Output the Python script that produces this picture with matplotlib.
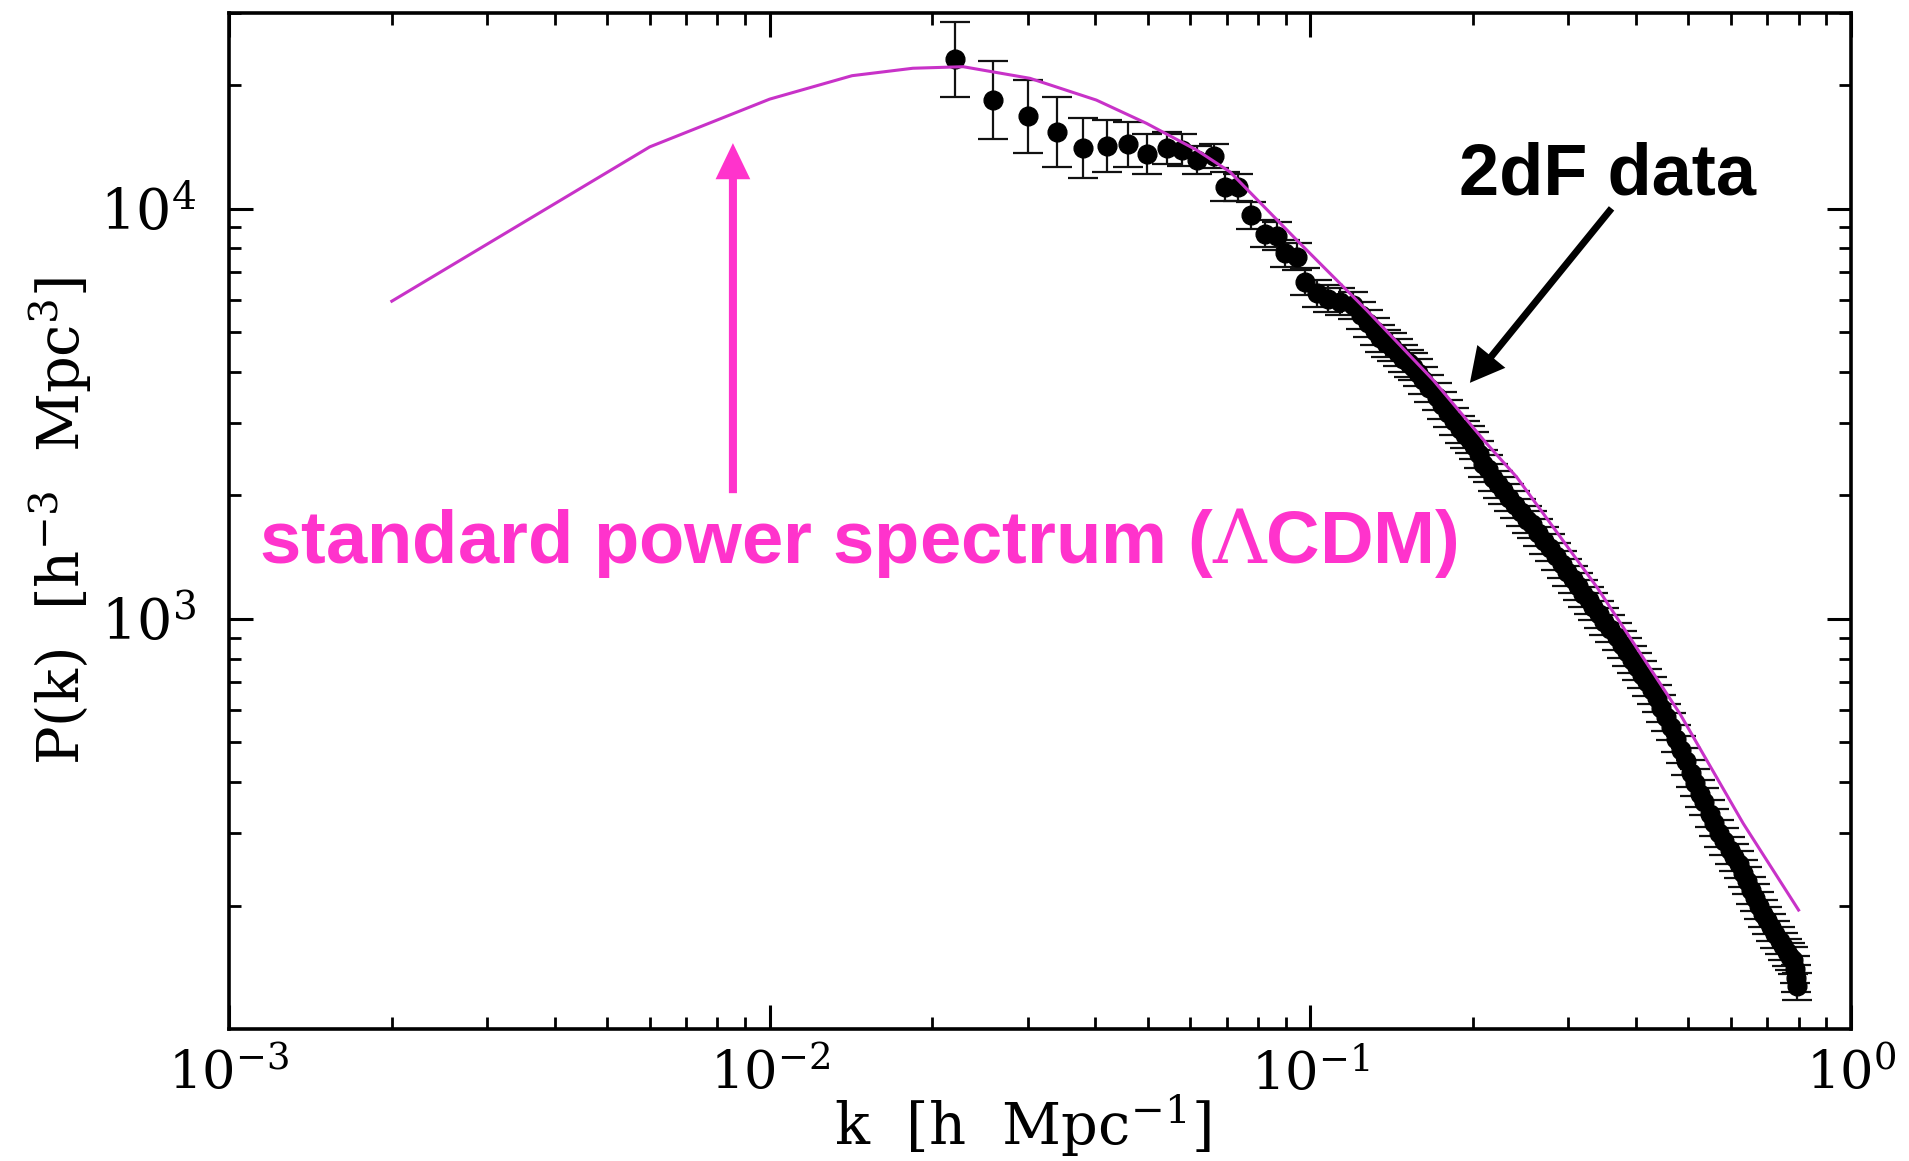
import numpy as np
import matplotlib
matplotlib.use("Agg")
import matplotlib.pyplot as plt
from matplotlib.ticker import LogLocator, NullFormatter

# ── model curve (LCDM) ──────────────────────────────────────
K_MODEL = [0.002, 0.006, 0.010, 0.0142, 0.0184, 0.0228, 0.0303, 0.0402, 0.0498,
           0.0616, 0.0710, 0.0957, 0.1271, 0.1688, 0.2118, 0.2407, 0.3387,
           0.4826, 0.632, 0.800]
P_MODEL = [5950, 14150, 18500, 21100, 22000, 22190, 20790, 18400, 16140,
           13900, 12300, 8230, 5657, 3819, 2677, 2218, 1196,
           587, 317, 195]

# ── 2dF band powers: sparse low-k points with big errors ────
K_LOW = [0.0220, 0.0259, 0.0300, 0.0340, 0.0380, 0.0420, 0.0459, 0.0499, 0.0542,
         0.0578, 0.0616, 0.0663, 0.0695]
P_LOW = [23130, 18400, 16820, 15400, 14080, 14210, 14350, 13590, 14030,
         13900, 13140, 13440, 11310]
ERR_LOW = [0.092, 0.095, 0.089, 0.085, 0.073, 0.064, 0.054, 0.048, 0.039,
           0.038, 0.035, 0.030, 0.035]   # log10 half-width of the bars

# ── dense high-k band ───────────────────────────────────────
K_HIGH = [0.0735, 0.0778, 0.0824, 0.0866, 0.0897, 0.0943, 0.0977, 0.1027, 0.1079,
          0.1134, 0.1200, 0.1240, 0.1280, 0.1315, 0.1345, 0.1380, 0.1414, 0.1450,
          0.1485, 0.1520, 0.1550, 0.1580, 0.1617, 0.1660, 0.1713, 0.1755, 0.1799,
          0.1840, 0.1891, 0.1930, 0.1973, 0.2010, 0.2050, 0.2089, 0.2130, 0.2180,
          0.2225, 0.2274, 0.2330, 0.2390, 0.2450, 0.2512, 0.2570, 0.2640, 0.2705,
          0.2774, 0.2850, 0.2920, 0.2990, 0.3063, 0.3130, 0.3200, 0.3270, 0.3336,
          0.3420, 0.3500, 0.3590, 0.3685, 0.3770, 0.3850, 0.3930, 0.4013, 0.4100,
          0.4190, 0.4280, 0.4369, 0.4460, 0.4550, 0.4650, 0.4750, 0.4850, 0.4950,
          0.5050, 0.5150, 0.5250, 0.5350, 0.5483, 0.5580, 0.5700, 0.5830, 0.5970,
          0.6080, 0.6200, 0.6320, 0.6412, 0.6530, 0.6650, 0.6770, 0.6880, 0.7000,
          0.7120, 0.7250, 0.7387, 0.7500, 0.7620, 0.7720, 0.7817, 0.7870, 0.7900,
          0.7930]
P_HIGH = [11270, 9650, 8700, 8580, 7780, 7630, 6630, 6220, 6040,
          5930, 5820, 5500, 5250, 5030, 4830, 4700, 4600, 4450,
          4310, 4200, 4120, 3980, 3820, 3650, 3480, 3320, 3170,
          3030, 2900, 2810, 2730, 2640, 2520, 2390, 2320, 2210,
          2130, 2060, 1975, 1900, 1820, 1745, 1700, 1620, 1550,
          1490, 1420, 1360, 1300, 1250, 1200, 1150, 1110, 1070,
          1025, 985, 945, 905, 865, 830, 795, 765, 730,
          700, 670, 640, 605, 575, 545, 510, 480, 450,
          420, 398, 375, 358, 335, 318, 300, 287, 273,
          262, 252, 240, 230, 218, 209, 200, 191, 184,
          177, 170, 164, 159, 154, 150, 147, 140, 133,
          127]
ERR_HIGH_DEX = 0.033

MAGENTA_LINE = "#C832C8"
MAGENTA_TEXT = "#FF33CC"

plt.rcParams["font.family"] = ["DejaVu Serif"]
plt.rcParams["mathtext.fontset"] = "dejavuserif"

fig = plt.figure(figsize=(19.09, 11.61), dpi=100)
ax = fig.add_axes([0.1200, 0.1137, 0.8496, 0.8751])

k = np.array(K_LOW + K_HIGH)
p = np.array(P_LOW + P_HIGH, dtype=float)
e = np.array(ERR_LOW + [ERR_HIGH_DEX] * len(K_HIGH))
lo = p - p / 10**e
hi = p * 10**e - p
ax.errorbar(k, p, yerr=[lo, hi], fmt="o", color="black", ms=13.5,
            ecolor="#111111", elinewidth=1.6, capsize=11, capthick=1.6, zorder=2)
ax.plot(K_MODEL, P_MODEL, color=MAGENTA_LINE, lw=2.2, zorder=3)

ax.set_xscale("log"); ax.set_yscale("log")
ax.set_xlim(1e-3, 1.0); ax.set_ylim(100, 30000)
ax.set_yticks([1e3, 1e4])
ax.yaxis.set_minor_locator(LogLocator(base=10, subs=np.arange(2, 10)))
ax.xaxis.set_minor_locator(LogLocator(base=10, subs=np.arange(2, 10)))
ax.xaxis.set_minor_formatter(NullFormatter()); ax.yaxis.set_minor_formatter(NullFormatter())
ax.tick_params(which="both", direction="in", top=True, right=True)
ax.tick_params(which="major", length=17, width=2.2, labelsize=38)
ax.tick_params(which="minor", length=8.5, width=2.0)
ax.tick_params(axis="x", which="major", pad=14)
ax.tick_params(axis="y", which="major", pad=24, labelsize=40)
for s in ax.spines.values():
    s.set_linewidth(2.6)

ax.set_xlabel(r"k  [h  Mpc$^{-1}$]", fontsize=41.5)
ax.xaxis.set_label_coords(0.489, -0.062)
ax.set_ylabel(r"P(k)  [h$^{-3}$  Mpc$^3$]", fontsize=41.5)
ax.yaxis.set_label_coords(-0.083, 0.5)

# annotations
ax.text(0.0185, 0.4587, r"standard power spectrum ($\Lambda$CDM)", transform=ax.transAxes,
        fontsize=53.5, fontweight="bold", family=["Liberation Sans", "DejaVu Sans"],
        color=MAGENTA_TEXT, va="baseline", ha="left")
ax.annotate("", xy=(0.00855, 14450), xytext=(0.00855, 2025),
            arrowprops=dict(width=5.8, headwidth=25, headlength=26, shrink=0,
                            color=MAGENTA_TEXT, lw=0))
ax.text(0.7583, 0.8209, "2dF data", transform=ax.transAxes,
        fontsize=52, fontweight="bold", family=["Liberation Sans", "DejaVu Sans"],
        color="black", va="baseline", ha="left")
ax.annotate("", xy=(0.1973, 3762), xytext=(0.3607, 10017),
            arrowprops=dict(width=5, headwidth=26, headlength=24.5, shrink=0,
                            color="black", lw=0))

fig.savefig("out.png", dpi=100)
